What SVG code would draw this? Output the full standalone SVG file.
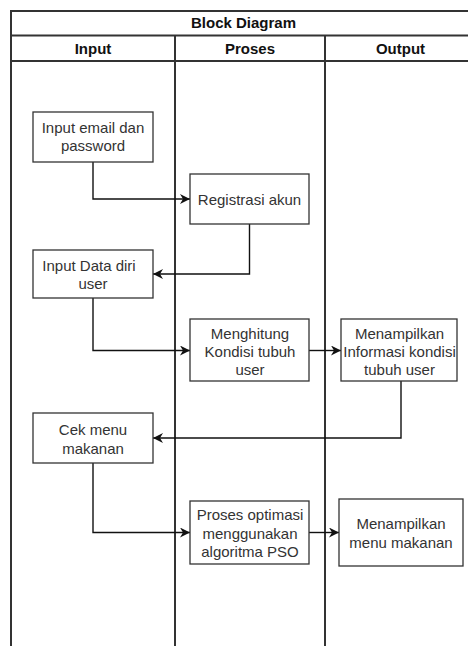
<svg xmlns="http://www.w3.org/2000/svg" width="468" height="646" viewBox="0 0 468 646">
<style>
.lane{fill:none;stroke:#333;stroke-width:2}
.box{fill:#fff;stroke:#333;stroke-width:1.3}
.t{font-family:"Liberation Sans",Arial,sans-serif;font-size:15px;fill:#333;text-anchor:middle}
.h{font-family:"Liberation Sans",Arial,sans-serif;font-size:15px;font-weight:bold;fill:#111;text-anchor:middle}
.c{fill:none;stroke:#111;stroke-width:1.4}
</style>
<defs>
<marker id="arr" viewBox="0 0 10 10" refX="10" refY="5" markerWidth="10" markerHeight="10" markerUnits="userSpaceOnUse" orient="auto">
<path d="M0,0 L10,5 L0,10 L3,5 Z" fill="#111"/>
</marker>
</defs>
<rect width="468" height="646" fill="#fff"/>
<g id="swimlanes">
<rect class="lane" x="11" y="11" width="465" height="700"/>
<line class="lane" x1="11" y1="35.5" x2="476" y2="35.5"/>
<line class="lane" x1="11" y1="61" x2="476" y2="61"/>
<line class="lane" x1="175" y1="35.5" x2="175" y2="700"/>
<line class="lane" x1="325" y1="35.5" x2="325" y2="700"/>
<text class="h" x="243.5" y="28">Block Diagram</text>
<text class="h" x="93" y="53.5">Input</text>
<text class="h" x="250" y="53.5">Proses</text>
<text class="h" x="400.5" y="53.5">Output</text>
</g>
<g id="connectors">
<path class="c" d="M93,162 V199 H190" marker-end="url(#arr)"/>
<path class="c" d="M249.5,224 V274 H153" marker-end="url(#arr)"/>
<path class="c" d="M93,298 V350.5 H190" marker-end="url(#arr)"/>
<path class="c" d="M309,350.5 H341" marker-end="url(#arr)"/>
<path class="c" d="M401,381 V438 H153" marker-end="url(#arr)"/>
<path class="c" d="M93,463 V532.5 H190" marker-end="url(#arr)"/>
<path class="c" d="M309,532.5 H339" marker-end="url(#arr)"/>
</g>
<g id="input-email">
<rect class="box" x="33" y="112" width="120" height="50"/>
<text class="t" x="93" y="133">Input email dan</text>
<text class="t" x="93" y="151">password</text>
</g>
<g id="registrasi">
<rect class="box" x="190" y="174" width="119" height="50"/>
<text class="t" x="249.5" y="204.5">Registrasi akun</text>
</g>
<g id="input-data">
<rect class="box" x="33" y="250" width="120" height="48"/>
<text class="t" x="89" y="270.5">Input Data diri</text>
<text class="t" x="93" y="289">user</text>
</g>
<g id="menghitung">
<rect class="box" x="190" y="319" width="119" height="62"/>
<text class="t" x="250" y="338.5">Menghitung</text>
<text class="t" x="250" y="356.5">Kondisi tubuh</text>
<text class="t" x="250" y="374.5">user</text>
</g>
<g id="menampilkan-info">
<rect class="box" x="341" y="319" width="116" height="62"/>
<text class="t" x="399.5" y="338.5">Menampilkan</text>
<text class="t" x="399.5" y="356.5">Informasi kondisi</text>
<text class="t" x="399.5" y="374.5">tubuh user</text>
</g>
<g id="cek-menu">
<rect class="box" x="33" y="413" width="120" height="50"/>
<text class="t" x="93" y="434.5">Cek menu</text>
<text class="t" x="93" y="453.5">makanan</text>
</g>
<g id="proses-optimasi">
<rect class="box" x="190" y="501" width="119" height="63"/>
<text class="t" x="250" y="520">Proses optimasi</text>
<text class="t" x="250" y="538.5">menggunakan</text>
<text class="t" x="250" y="557">algoritma PSO</text>
</g>
<g id="menampilkan-menu">
<rect class="box" x="339" y="499" width="124" height="67"/>
<text class="t" x="401" y="528.5">Menampilkan</text>
<text class="t" x="401" y="547.5">menu makanan</text>
</g>
</svg>
